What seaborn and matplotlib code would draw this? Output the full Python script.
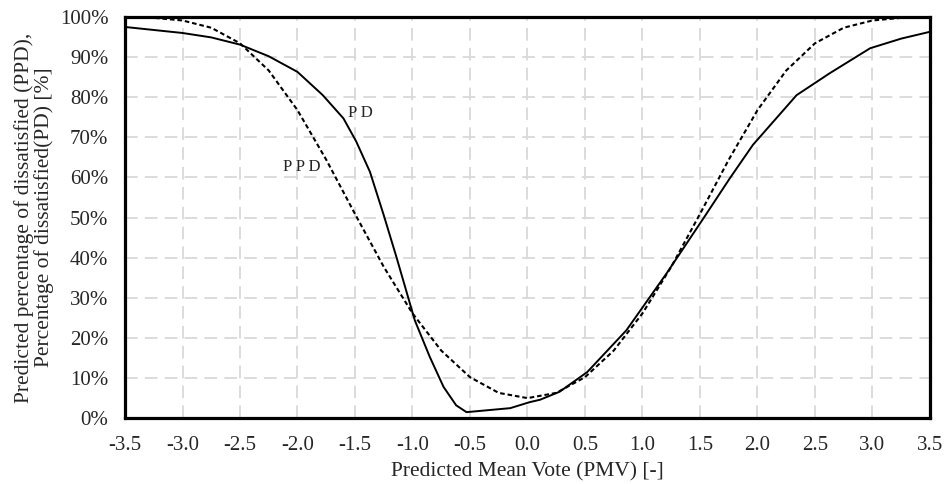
import pandas as pd
import seaborn as sns
import matplotlib.pyplot as plt
from matplotlib.ticker import PercentFormatter

# PD curve (solid)
pd_pmv = [-3.5, -3.0, -2.75, -2.5, -2.25, -2.0, -1.78, -1.6, -1.49, -1.37, -1.25,
          -1.14, -0.98, -0.85, -0.73, -0.62, -0.53, -0.15, 0.02, 0.11, 0.28, 0.52,
          0.86, 1.21, 1.53, 1.76, 1.96, 2.34, 2.63, 2.98, 3.25, 3.5]
pd_val = [97.5, 96.0, 94.9, 93.1, 90.2, 86.3, 80.5, 74.7, 69.0, 61.4, 50.6,
          40.2, 24.4, 15.3, 7.8, 3.2, 1.5, 2.5, 4.0, 4.6, 6.6, 11.5,
          21.9, 36.1, 49.8, 59.8, 68.1, 80.5, 86.0, 92.2, 94.6, 96.3]

# PPD curve (dashed)
ppd_pmv = [-3.5, -3.25, -3.0, -2.75, -2.5, -2.25, -2.0, -1.75, -1.5, -1.25, -1.0,
           -0.75, -0.5, -0.25, 0.0, 0.25, 0.5, 0.75, 1.0, 1.25, 1.5, 1.75, 2.0,
           2.25, 2.5, 2.75, 3.0, 3.25, 3.5]
ppd_val = [99.96, 99.77, 99.12, 97.31, 93.43, 86.65, 76.76, 64.41, 50.90, 37.72, 26.12,
           16.85, 10.22, 6.30, 5.0, 6.30, 10.22, 16.85, 26.12, 37.72, 50.90, 64.41, 76.76,
           86.65, 93.43, 97.31, 99.12, 99.77, 99.96]

df_pd = pd.DataFrame({"PMV": pd_pmv, "val": pd_val})
df_ppd = pd.DataFrame({"PMV": ppd_pmv, "val": ppd_val})

sns.set_style("white")
plt.rcParams["font.family"] = ["Liberation Serif", "DejaVu Serif"]

fig = plt.figure(figsize=(9.47, 4.84), dpi=100)
ax = fig.add_axes([0.132, 0.136, 0.850, 0.829])

sns.lineplot(data=df_ppd, x="PMV", y="val", ax=ax, color="black",
             linewidth=1.5, linestyle=(0, (2.2, 1.4)), sort=False)
sns.lineplot(data=df_pd, x="PMV", y="val", ax=ax, color="black",
             linewidth=1.4, sort=False)

ax.set_xlim(-3.5, 3.5)
ax.set_ylim(0, 100)
ax.set_xticks([x / 2 for x in range(-7, 8)])
ax.set_xticklabels([f"{x / 2:.1f}" for x in range(-7, 8)])
ax.set_yticks(range(0, 101, 10))
ax.yaxis.set_major_formatter(PercentFormatter(decimals=0))
ax.tick_params(axis="x", length=0, labelsize=15, pad=13)
ax.tick_params(axis="y", length=0, labelsize=15, pad=12)

ax.grid(True, color="#d9d9d9", linestyle=(0, (7, 4)), linewidth=1.3)
ax.set_axisbelow(True)
for s in ax.spines.values():
    s.set_color("black")
    s.set_linewidth(2.3)

ax.text(-1.56, 76, "P D", fontsize=12, va="center", ha="left")
ax.text(-2.13, 62.6, "P P D", fontsize=12, va="center", ha="left")

ax.set_xlabel("Predicted Mean Vote (PMV) [-]", fontsize=15.5, labelpad=5)
ax.set_ylabel("Predicted percentage of dissatisfied (PPD),\nPercentage of dissatisfied(PD) [%]",
              fontsize=15.5, labelpad=4, linespacing=1.0)

fig.savefig("out.png", dpi=100)
